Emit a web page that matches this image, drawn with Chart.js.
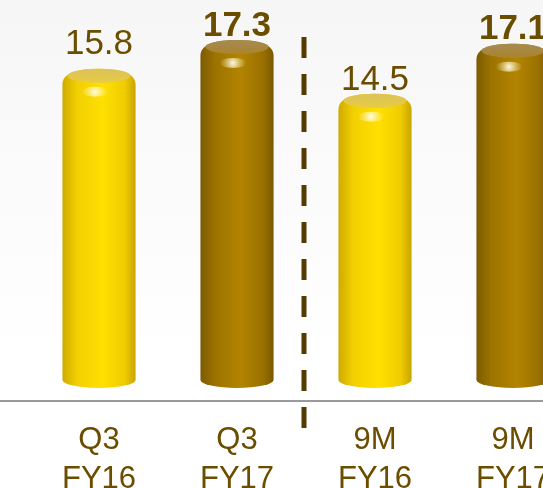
<!DOCTYPE html>
<html>
<head>
<meta charset="utf-8">
<script src="https://cdn.jsdelivr.net/npm/chart.js@4.4.1/dist/chart.umd.min.js"></script>
<style>
  html,body{margin:0;padding:0;overflow:hidden}
  body{width:543px;height:488px;background:linear-gradient(#f6f6f6 0%,#fcfcfc 45%,#ffffff 75%)}
  #wrap{width:543px;height:488px;overflow:hidden;position:relative}
  #wrap canvas{position:absolute;left:0;top:0}
</style>
</head>
<body>
<div id="wrap"><canvas id="c" width="600" height="488"></canvas></div>
<script>
// periods shown on the x axis (two lines each)
const PERIODS = [['Q3','FY16'],['Q3','FY17'],['9M','FY16'],['9M','FY17']];
// values printed on top of the cylinders
const VALUES = [15.8, 17.3, 14.5, 17.1];

const TEXT = '#6b4d00';

// gold / yellow cylinder palette, one per bar
const BODY = [
  ['#cfab00','#f2cf00','#ffe000','#f0cc00','#c9a500'],
  ['#7d5b00','#9c7300','#b38400','#9a7100','#7a5800'],
  ['#cfab00','#f2cf00','#ffe000','#f0cc00','#c9a500'],
  ['#7d5b00','#9c7300','#b38400','#9a7100','#7a5800']
];
const CAP = [['#dcc25a','#e8cd40'],['#a68a55','#a98424'],['#dcc25a','#e8cd40'],['#a68a55','#a98424']];

// draw each bar as a cylinder, from the bar element geometry
const cylinders = {
  id:'cylinders',
  beforeDatasetsDraw(chart){
    const ctx = chart.ctx, a = chart.chartArea;
    ctx.save();
    ctx.strokeStyle = '#9a9a9a';
    ctx.lineWidth = 2;
    ctx.beginPath();
    ctx.moveTo(0, a.bottom);
    ctx.lineTo(chart.width, a.bottom);
    ctx.stroke();

    // dashed divider between quarter and nine-month figures
    const xs = chart.scales.x;
    const mid = (xs.getPixelForValue(1) + xs.getPixelForValue(2)) / 2 - 2;
    ctx.strokeStyle = '#543c00';
    ctx.lineWidth = 5;
    ctx.setLineDash([21,16]);
    ctx.beginPath();
    ctx.moveTo(mid, 37);
    ctx.lineTo(mid, 431);
    ctx.stroke();
    ctx.restore();
  },
  afterDatasetsDraw(chart, args, opts){
    const ctx = chart.ctx;
    const meta = chart.getDatasetMeta(0);
    meta.data.forEach((bar, i)=>{
      const {x, y, base, width} = bar.getProps(['x','y','base','width'], true);
      const rx = width/2, ry = 8;
      const l = x - rx, r = x + rx;
      ctx.save();
      // body with rounded shoulders
      const g = ctx.createLinearGradient(l, 0, r, 0);
      const c = BODY[i];
      g.addColorStop(0, c[0]); g.addColorStop(0.2, c[1]); g.addColorStop(0.55, c[2]);
      g.addColorStop(0.85, c[3]); g.addColorStop(1, c[4]);
      ctx.fillStyle = g;
      ctx.beginPath();
      ctx.moveTo(l, y + 8);
      ctx.bezierCurveTo(l, y - 4, x - rx*0.6, y - ry, x, y - ry);
      ctx.bezierCurveTo(x + rx*0.6, y - ry, r, y - 4, r, y + 8);
      ctx.lineTo(r, base);
      ctx.ellipse(x, base, rx, ry, 0, 0, Math.PI, false);
      ctx.closePath();
      ctx.fill();
      // top cap
      const cg = ctx.createLinearGradient(0, y - ry, 0, y + ry);
      cg.addColorStop(0, CAP[i][0]);
      cg.addColorStop(1, CAP[i][1]);
      ctx.fillStyle = cg;
      ctx.beginPath();
      ctx.ellipse(x, y - 1, rx - 5, ry - 1, 0, 0, Math.PI*2);
      ctx.fill();
      // shoulder highlight
      const h = ctx.createRadialGradient(x - 4, y + 15, 0, x - 4, y + 15, 13);
      h.addColorStop(0, 'rgba(255,255,240,0.95)');
      h.addColorStop(0.5, 'rgba(255,250,210,0.45)');
      h.addColorStop(1, 'rgba(255,250,210,0)');
      ctx.fillStyle = h;
      ctx.beginPath();
      ctx.ellipse(x - 4, y + 15, 14, 5, 0, 0, Math.PI*2);
      ctx.fill();
      // value label
      ctx.fillStyle = TEXT;
      ctx.textAlign = 'center';
      ctx.textBaseline = 'alphabetic';
      ctx.font = (opts.bold[i] ? 'bold ' : '') + '35px "Liberation Sans", Arial, sans-serif';
      ctx.fillText(VALUES[i].toFixed(1), x, y - opts.lift[i]);
      ctx.restore();
    });
  }
};

new Chart(document.getElementById('c'), {
  type:'bar',
  data:{
    labels: PERIODS,
    datasets:[{data: VALUES, backgroundColor:'rgba(0,0,0,0)', borderWidth:0}]
  },
  options:{
    responsive:false,
    animation:false,
    layout:{padding:{left:30, right:18, top:0, bottom:0}},
    plugins:{
      legend:{display:false},
      tooltip:{enabled:false},
      cylinders:{bold:[false,true,false,true], lift:[23,12,12,13]}
    },
    datasets:{bar:{categoryPercentage:1, barPercentage:0.53}},
    scales:{
      y:{display:false, min:-1.1, max:19.8},
      x:{
        grid:{display:false, drawTicks:false},
        border:{display:false},
        afterFit(scale){ scale.height = 87; },
        ticks:{
          color: TEXT,
          padding: 20,
          font:{family:'"Liberation Sans", Arial, sans-serif', size:31, lineHeight:1.25}
        }
      }
    }
  },
  plugins:[cylinders]
});
</script>
</body>
</html>
